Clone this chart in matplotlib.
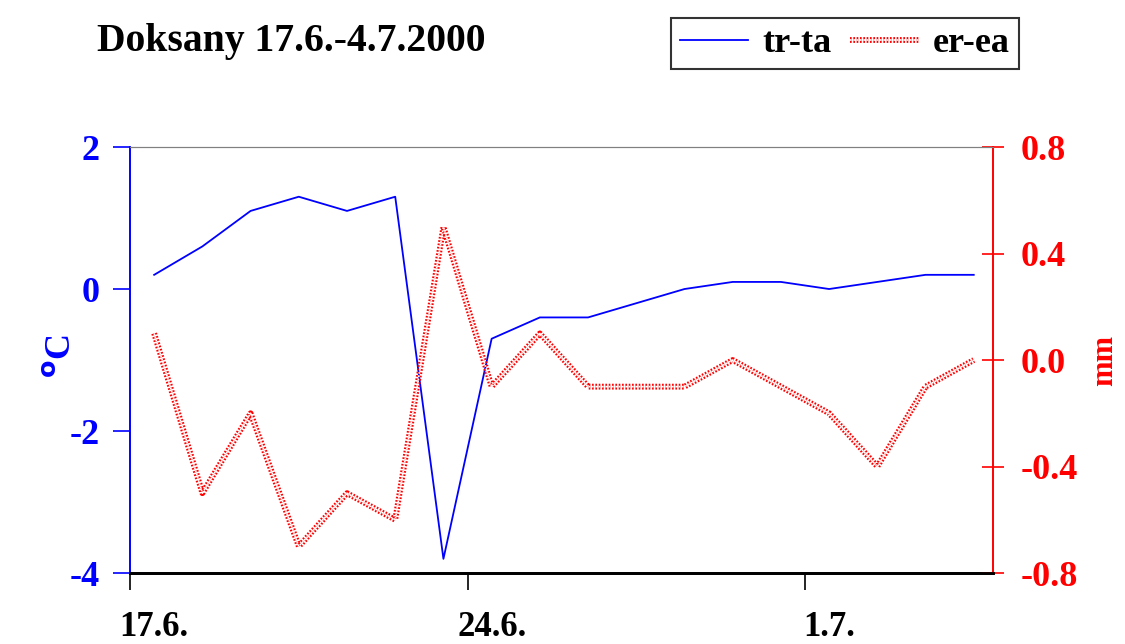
import matplotlib.pyplot as plt
import matplotlib.patheffects as pe
import numpy as np

# daily values 17.6. - 4.7.2000
days = np.arange(18) + 0.5
tr_ta = [0.2, 0.6, 1.1, 1.3, 1.1, 1.3, -3.8, -0.7, -0.4, -0.4, -0.2, 0.0,
         0.1, 0.1, 0.0, 0.1, 0.2, 0.2]
er_ea = [0.1, -0.5, -0.2, -0.7, -0.5, -0.6, 0.5, -0.1, 0.1, -0.1, -0.1, -0.1,
         0.0, -0.1, -0.2, -0.4, -0.1, 0.0]
tick_pos = [0, 7, 14]
tick_labels = ['17.6.', '24.6.', '1.7.']

plt.rcParams['font.family'] = ['Liberation Serif', 'DejaVu Serif']
plt.rcParams['font.weight'] = 'bold'
plt.rcParams['axes.labelweight'] = 'bold'
plt.rcParams['axes.unicode_minus'] = False

fig = plt.figure(figsize=(11.25, 6.44), dpi=100)
ax = fig.add_axes([0.1156, 0.1102, 0.8827 - 0.1156, 0.7717 - 0.1102])
ax2 = ax.twinx()

l1, = ax.plot(days, tr_ta, color='#0000ff', lw=1.3, label='tr-ta')
l2, = ax2.plot(days, er_ea, color='white', lw=1.2, dashes=(1.0, 1.0), label='er-ea')
l2.set_path_effects([pe.Stroke(linewidth=4.2, foreground='#ff0000'), pe.Normal()])

ax.set_xlim(0, 17.9)
ax.set_ylim(-4, 2)
ax.set_yticks([-4, -2, 0, 2])
ax2.set_ylim(-0.8, 0.8)
ax2.set_yticks([-0.8, -0.4, 0.0, 0.4, 0.8])
ax2.set_yticklabels(['-0.8', '-0.4', '0.0', '0.4', '0.8'])

ax.set_xticks(tick_pos)
ax.set_xticklabels([])
ax.set_xticks([p + 0.5 for p in tick_pos], minor=True)
ax.set_xticklabels(tick_labels, minor=True)
ax.tick_params(axis='x', which='major', direction='out', length=12, width=1.2, color='black')
ax.tick_params(axis='x', which='minor', length=0, pad=45, labelsize=25)
for t in ax.get_xticklabels(minor=True):
    t.set_va('baseline')

ax.tick_params(axis='y', direction='out', length=12, width=1.2, color='#0000ff',
               labelcolor='#0000ff', labelsize=26, pad=10)
ax2.tick_params(axis='y', direction='inout', length=16, width=1.2, color='#ff0000',
                labelcolor='#ff0000', labelsize=26, pad=12)

for a in (ax, ax2):
    a.spines['top'].set_color('#808080')
    a.spines['bottom'].set_color('black')
    a.spines['bottom'].set_linewidth(2)
    a.spines['left'].set_color('#0000ff')
    a.spines['right'].set_color('#ff0000')
    a.spines['left'].set_linewidth(1.2)
    a.spines['right'].set_linewidth(1.2)

ax.set_ylabel(r'$\mathbf{^o}$C', color='#0000ff', fontsize=26, fontweight='bold')
ax.yaxis.set_label_coords(-0.06, 0.51)
ax2.set_ylabel('mm', color='#ff0000', fontsize=22, fontweight='bold')
ax2.yaxis.set_label_coords(1.112, 0.5)

fig.text(0.086, 0.935, 'Doksany 17.6.-4.7.2000', fontsize=28.5, fontweight='bold',
         ha='left', va='center')

leg = fig.legend(handles=[l1, l2], loc='upper right', bbox_to_anchor=(0.906, 0.972),
                 ncol=2, fontsize=26, frameon=True, fancybox=False, edgecolor='black',
                 handlelength=1.9, columnspacing=0.5, handletextpad=0.4,
                 borderpad=0.25, borderaxespad=0.0)
leg.get_frame().set_linewidth(1.5)

fig.savefig('out.png', dpi=100)
